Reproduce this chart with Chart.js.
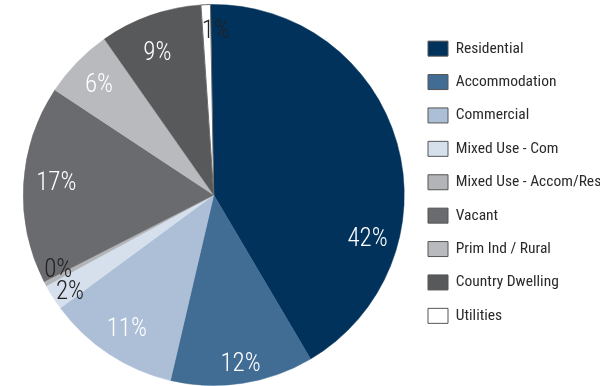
<!DOCTYPE html>
<html>
<head>
<meta charset="utf-8">
<script src="https://cdn.jsdelivr.net/npm/chart.js@4/dist/chart.umd.min.js"></script>
<style>
  html, body { margin: 0; padding: 0; background: #ffffff; }
  #wrap { width: 600px; height: 386px; position: relative; }
</style>
</head>
<body>
<div id="wrap"><canvas id="c" width="600" height="386"></canvas></div>
<script>
// ---- data ----
const categories = ['Residential', 'Accommodation', 'Commercial', 'Mixed Use - Com', 'Mixed Use - Accom/Res', 'Vacant', 'Prim Ind / Rural', 'Country Dwelling', 'Utilities'];
const shares = [42.0, 12.2, 11.3, 2.2, 0.4, 16.9, 6.0, 8.7, 0.8];

// ---- style ----
const sliceColors = ['#00325c', '#416c94', '#adbfd6', '#d5e0ec', '#b3b4b7', '#6a6b6f', '#b9babe', '#58595b', '#ffffff'];
const labelColors = ['#ffffff', '#ffffff', '#ffffff', '#222222', '#222222', '#ffffff', '#ffffff', '#ffffff', '#222222'];
const FONT = "'Roboto Condensed', 'Liberation Sans Narrow', sans-serif";
// label placement tweaks (angle offset in degrees from slice middle, radius as fraction of outer radius)
const labelAngleShift = [30.5, -0.5, 0.2, -0.6, 2.9, 2.2, 0.3, -1.7, 3.1];
const labelRadiusFrac = [0.835, 0.88, 0.825, 0.90, 0.90, 0.83, 0.845, 0.82, 0.88];
const labelDy = 4;

const total = shares.reduce((a, b) => a + b, 0);

const sliceLabels = {
  id: 'sliceLabels',
  afterDatasetsDraw(chart) {
    const ctx = chart.ctx;
    const meta = chart.getDatasetMeta(0);
    ctx.save();
    ctx.font = '300 25px ' + FONT;
    ctx.textAlign = 'center';
    ctx.textBaseline = 'middle';
    meta.data.forEach((arc, i) => {
      const p = arc.getProps(['x', 'y', 'startAngle', 'endAngle', 'outerRadius'], true);
      const a = (p.startAngle + p.endAngle) / 2 + labelAngleShift[i] * Math.PI / 180;
      const r = p.outerRadius * labelRadiusFrac[i];
      const txt = Math.round(shares[i] / total * 100) + '%';
      ctx.fillStyle = labelColors[i];
      ctx.fillText(txt, p.x + Math.cos(a) * r, p.y + Math.sin(a) * r + labelDy);
    });
    ctx.restore();
  }
};

new Chart(document.getElementById('c'), {
  type: 'pie',
  data: {
    labels: categories,
    datasets: [{
      data: shares,
      backgroundColor: sliceColors,
      borderColor: sliceColors.map((c, i) => i === 8 ? '#6b6b6b' : c),
      borderWidth: sliceColors.map((c, i) => i === 8 ? 1 : 0.5),
      hoverOffset: 0
    }]
  },
  options: {
    responsive: false,
    animation: false,
    events: [],
    rotation: -1,
    layout: { padding: { left: 17.4, top: 4, right: 0, bottom: 0 } },
    plugins: {
      tooltip: { enabled: false },
      legend: {
        position: 'right',
        align: 'start',
        maxWidth: 189.9,
        title: { display: true, text: '', font: { size: 10 }, padding: { top: 7, bottom: 0 } },
        labels: {
          boxWidth: 20,
          boxHeight: 15,
          padding: 17.9,
          color: '#2a2a2a',
          font: { family: FONT, size: 15.5 },
          generateLabels(chart) {
            return categories.map((name, i) => ({
              text: name,
              fillStyle: sliceColors[i],
              strokeStyle: '#555555',
              lineWidth: 1,
              hidden: false,
              index: i,
              fontColor: '#2a2a2a'
            }));
          }
        }
      }
    }
  },
  plugins: [sliceLabels]
});
</script>
</body>
</html>
